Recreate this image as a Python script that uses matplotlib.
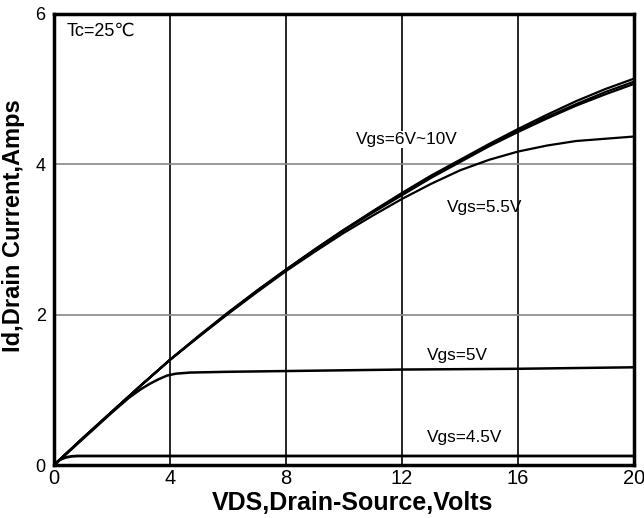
import matplotlib
matplotlib.use('Agg')
import matplotlib.pyplot as plt

plt.rcParams['font.family'] = ['Liberation Sans', 'DejaVu Sans']

# Vgs = 6V ~ 10V (several nearly overlapping curves)
x_hi = [0, 1, 2, 3, 4, 5, 6, 7, 8, 9, 10, 11, 12, 13, 14, 15, 16, 17, 18, 19, 20]
y_6v = [0, 0.36, 0.71, 1.06, 1.40, 1.71, 2.02, 2.31, 2.59, 2.86, 3.12, 3.36,
        3.59, 3.82, 4.03, 4.24, 4.43, 4.61, 4.78, 4.93, 5.07]
y_8v = [0, 0.36, 0.71, 1.06, 1.40, 1.72, 2.02, 2.32, 2.60, 2.87, 3.13, 3.37,
        3.60, 3.83, 4.04, 4.25, 4.45, 4.63, 4.80, 4.96, 5.10]
y_10v = [0, 0.36, 0.71, 1.06, 1.40, 1.72, 2.03, 2.32, 2.60, 2.87, 3.13, 3.38,
         3.62, 3.85, 4.06, 4.27, 4.47, 4.66, 4.84, 5.00, 5.14]

# Vgs = 5.5V
y_55v = [0, 0.36, 0.71, 1.06, 1.40, 1.71, 2.01, 2.30, 2.58, 2.84, 3.09, 3.32,
         3.54, 3.74, 3.92, 4.06, 4.17, 4.25, 4.31, 4.34, 4.37]

# Vgs = 5V
x_5v = [0, 1, 2, 2.6, 3.0, 3.3, 3.6, 3.9, 4.2, 4.7, 6, 8, 12, 16, 20]
y_5v = [0, 0.35, 0.70, 0.90, 1.01, 1.08, 1.14, 1.19, 1.215, 1.23, 1.24, 1.25, 1.27, 1.28, 1.30]

# Vgs = 4.5V
x_45v = [0, 0.2, 0.4, 0.6, 0.8, 4, 20]
y_45v = [0, 0.07, 0.10, 0.115, 0.12, 0.12, 0.12]

fig = plt.figure(figsize=(6.44, 5.18), dpi=100)
ax = fig.add_axes([0.0839, 0.1023, 0.9006, 0.8707])

# grid: black verticals, gray horizontals
for xv in [4, 8, 12, 16]:
    ax.axvline(xv, color='black', lw=1.2, zorder=1)
for yv in [2, 4]:
    ax.axhline(yv, color='#888888', lw=1.2, zorder=1)

ax.plot(x_hi, y_6v, color='black', lw=1.6, zorder=3)
ax.plot(x_hi, y_8v, color='black', lw=1.6, zorder=3)
ax.plot(x_hi, y_10v, color='black', lw=1.6, zorder=3)
ax.plot(x_hi, y_55v, color='black', lw=1.6, zorder=3)
ax.plot(x_5v, y_5v, color='black', lw=1.8, zorder=3)
ax.plot(x_45v, y_45v, color='black', lw=2.0, zorder=3)

ax.text(12.17, 4.33, 'Vgs=6V~10V', fontsize=12.4, ha='center', va='center',
        zorder=2, bbox=dict(facecolor='white', edgecolor='none', pad=1))
ax.text(14.86, 3.43, 'Vgs=5.5V', fontsize=12.4, ha='center', va='center')
ax.text(13.9, 1.46, 'Vgs=5V', fontsize=12.4, ha='center', va='center')
ax.text(14.17, 0.37, 'Vgs=4.5V', fontsize=12.4, ha='center', va='center')
ax.text(0.45, 5.77, 'Tc=25\u2103', fontsize=13, ha='left', va='center')

ax.set_xlim(0, 20)
ax.set_ylim(0, 6)
ax.set_xticks([0, 4, 8, 12, 16, 20])
ax.set_yticks([0, 2, 4, 6])
ax.tick_params(axis='x', length=0, labelsize=14.5, pad=3)
ax.tick_params(axis='y', length=0, labelsize=13, pad=6)
for s in ax.spines.values():
    s.set_linewidth(2.5)

ax.set_xlabel('VDS,Drain-Source,Volts', fontsize=18, fontweight='bold')
ax.set_ylabel('Id,Drain Current,Amps', fontsize=17, fontweight='bold')
ax.xaxis.set_label_coords(0.514, -0.058)
ax.yaxis.set_label_coords(-0.05, 0.53)

fig.savefig('out.png', dpi=100)
